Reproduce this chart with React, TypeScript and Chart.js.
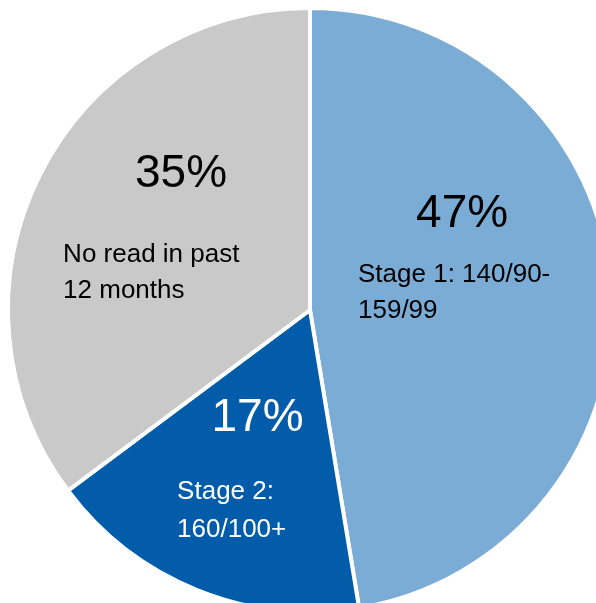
import React, { useEffect, useRef } from "react";
import { Chart, registerables } from "chart.js";

Chart.register(...registerables);

const categories = ["Stage 1: 140/90-159/99", "Stage 2: 160/100+", "No read in past 12 months"];
const values = [47.4, 17.4, 35.2];
const percentLabels = ["47%", "17%", "35%"];
const labelLines = [["Stage 1: 140/90-", "159/99"], ["Stage 2:", "160/100+"], ["No read in past", "12 months"]];
const colors = ["#7BACD5", "#025CA9", "#C9C9C9"];
const textColors = ["#000000", "#FFFFFF", "#000000"];

// offsets in units of radius, relative to pie center
const pctPos = [[0.507, -0.277], [-0.175, 0.403], [-0.43, -0.41]];
const linePos = [[0.16, -0.093, 0.027], [-0.443, 0.63, 0.757], [-0.823, -0.16, -0.04]];

const labelPlugin = {
  id: "sliceLabels",
  afterDatasetsDraw(chart: any) {
    const meta = chart.getDatasetMeta(0);
    const ctx = chart.ctx;
    ctx.save();
    meta.data.forEach((arc: any, i: number) => {
      const cx = arc.x;
      const cy = arc.y;
      const R = arc.outerRadius - 2;
      ctx.fillStyle = textColors[i];
      ctx.textBaseline = "alphabetic";
      ctx.font = "46px 'Liberation Sans', Arial, sans-serif";
      ctx.textAlign = "center";
      ctx.fillText(percentLabels[i], cx + pctPos[i][0] * R, cy + pctPos[i][1] * R);
      ctx.font = "26px 'Liberation Sans', Arial, sans-serif";
      ctx.textAlign = "left";
      const lp = linePos[i];
      ctx.fillText(labelLines[i][0], cx + lp[0] * R, cy + lp[1] * R);
      ctx.fillText(labelLines[i][1], cx + lp[0] * R, cy + lp[2] * R);
    });
    ctx.restore();
  },
};

export default function App() {
  const ref = useRef<HTMLCanvasElement | null>(null);
  useEffect(() => {
    if (!ref.current) return;
    const chart = new Chart(ref.current, {
      type: "pie",
      data: {
        labels: categories,
        datasets: [
          {
            data: values,
            backgroundColor: colors,
            borderColor: "#FFFFFF",
            borderWidth: 4,
          },
        ],
      },
      options: {
        responsive: false,
        animation: false,
        radius: 302,
        layout: { padding: 0 },
        plugins: {
          legend: { display: false },
          tooltip: { enabled: false },
        },
      } as any,
      plugins: [labelPlugin],
    });
    return () => chart.destroy();
  }, []);
  return (
    <div
      style={{
        position: "fixed",
        left: 0,
        top: 0,
        width: 596,
        height: 603,
        overflow: "hidden",
        background: "#FFFFFF",
      }}
    >
      <canvas
        ref={ref}
        width={640}
        height={640}
        style={{ position: "absolute", left: -10, top: -10, width: 640, height: 640 }}
      />
    </div>
  );
}
